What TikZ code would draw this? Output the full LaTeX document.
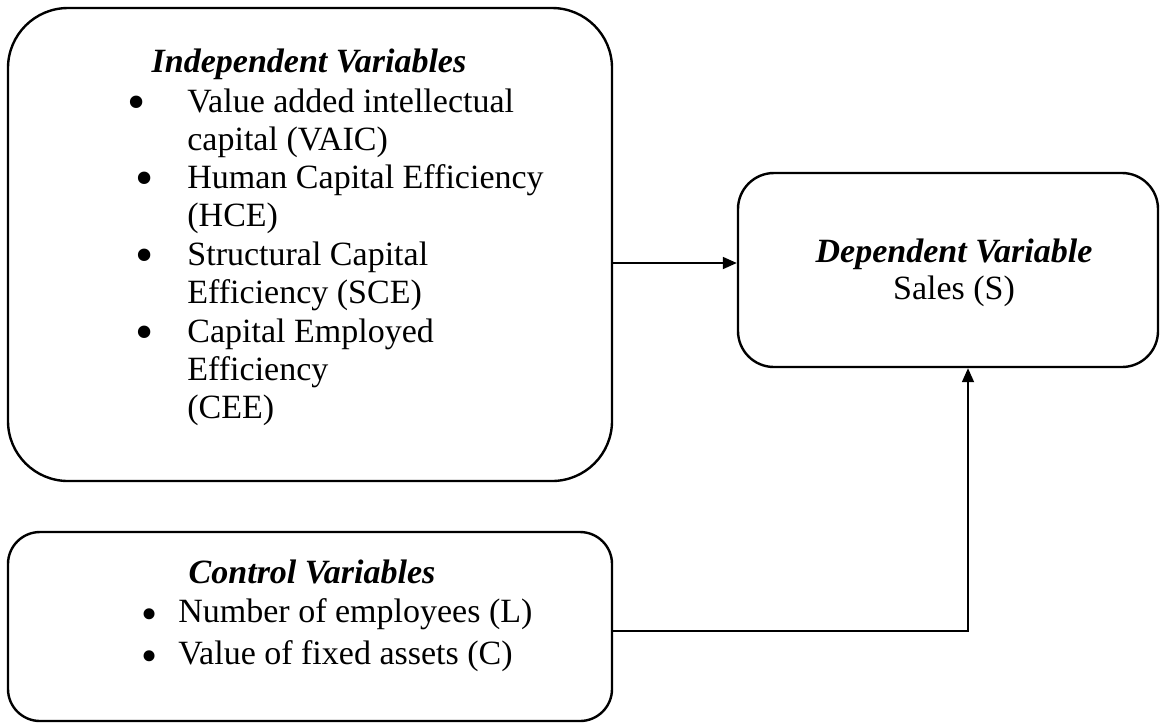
\documentclass[tikz,border=0pt]{standalone}
\usepackage{fontspec}
\setmainfont{Liberation Serif}
\usetikzlibrary{arrows.meta}
\newcommand{\bigbul}{\makebox[18.5pt][l]{\raisebox{-3.5pt}[0pt][0pt]{\fontsize{23pt}{23pt}\selectfont\textbullet}}}
\begin{document}
\begin{tikzpicture}[x=0.5pt,y=-0.5pt,
  box/.style={draw=black,line width=1.2pt,inner sep=0pt,rectangle},
  txt/.style={inner sep=0pt,anchor=base west,font=\fontsize{17pt}{19.2pt}\selectfont},
  ttl/.style={inner sep=0pt,anchor=base,font=\fontsize{17pt}{19.2pt}\selectfont\bfseries\itshape},
  ctr/.style={inner sep=0pt,anchor=base,font=\fontsize{17pt}{19.2pt}\selectfont},
  bul/.style={inner sep=0pt,anchor=center,font=\fontsize{26pt}{26pt}\selectfont},
  conn/.style={line width=0.9pt,-{Triangle[length=7pt,width=6pt]}}]
\useasboundingbox (0,0) rectangle (1161,725);
% boxes
\node[box,rounded corners=30pt,minimum width=302pt,minimum height=236.5pt] (indep) at (310,244.5) {};
\node[box,rounded corners=18pt,minimum width=210pt,minimum height=97pt] (dep) at (948,270) {};
\node[box,rounded corners=16pt,minimum width=302pt,minimum height=94.5pt] (ctrl) at (310,626.5) {};
% independent box text
\node[ttl] (t1) at (309,72) {Independent Variables};
\node[bul] (b1) at (137,108) {\textbullet};
\node[txt] (l1) at (187,112) {Value added intellectual};
\node[txt] (l2) at (187,150) {capital (VAIC)};
\node[bul] (b2) at (145,184) {\textbullet};
\node[txt] (l3) at (187,188) {Human Capital Efficiency};
\node[txt] (l4) at (187,226) {(HCE)};
\node[bul] (b3) at (145,261) {\textbullet};
\node[txt] (l5) at (187,265) {Structural Capital};
\node[txt] (l6) at (187,303) {Efficiency (SCE)};
\node[bul] (b4) at (145,338) {\textbullet};
\node[txt] (l7) at (187,342) {Capital Employed};
\node[txt] (l8) at (187,380) {Efficiency};
\node[txt] (l9) at (187,418) {(CEE)};
% dependent box text
\node[ttl] (t2) at (954,262) {Dependent Variable};
\node[ctr] (s1) at (954,299) {Sales (S)};
% control box text
\node[ttl] (t3) at (312,583) {Control Variables};
\node[txt] (c1) at (141,622) {\bigbul Number of employees (L)};
\node[txt] (c2) at (141,664) {\bigbul Value of fixed assets (C)};
% connectors
\coordinate (a1) at (612,263);
\draw[conn] (indep.east |- a1) -- (dep.west |- a1);
\coordinate (bend) at (968,631);
\draw[conn] (ctrl.east |- bend) -- (bend) -- (bend |- dep.south);
\end{tikzpicture}
\end{document}
